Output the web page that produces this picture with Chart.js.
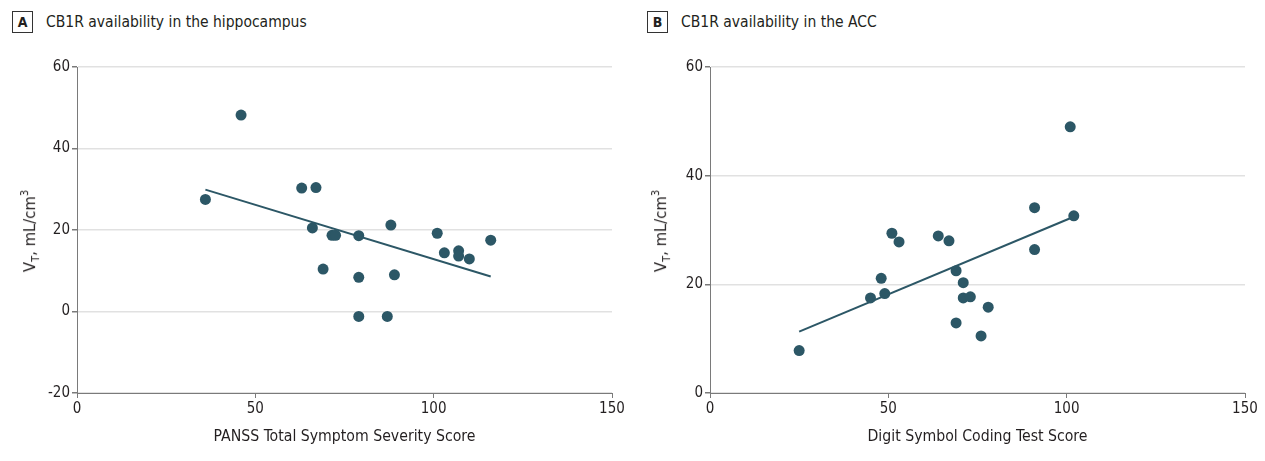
<!DOCTYPE html>
<html>
<head>
<meta charset="utf-8">
<script src="https://cdn.jsdelivr.net/npm/chart.js@4/dist/chart.umd.min.js"></script>
<style>
  body { margin: 0; background: #fff; width: 1265px; height: 461px; position: relative; overflow: hidden;
         font-family: "Liberation Sans Narrow", "DejaVu Sans Condensed", sans-serif; color: #231f20; }
  .panel-title { position: absolute; top: 11px; height: 22px; font-size: 15.5px; display: flex; align-items: center; }
  .panel-title .tag { box-sizing: border-box; width: 21px; height: 22px; border: 1px solid #333; font-weight: bold;
         font-size: 14px; display: flex; align-items: center; justify-content: center; margin-right: 13px; }
  .chart-box { position: absolute; top: 40px; height: 421px; }
  .ytitle { position: absolute; top: 231px; font-size: 16.5px; white-space: nowrap; color: #231f20;
         transform: translate(-50%, -50%) rotate(-90deg); }
  .ytitle sub, .ytitle sup { font-size: 11px; }
</style>
</head>
<body>
<div class="panel-title" style="left:12px"><span class="tag">A</span>CB1R availability in the hippocampus</div>
<div class="panel-title" style="left:647px"><span class="tag">B</span>CB1R availability in the ACC</div>

<div class="chart-box" style="left:0px; width:632px"><canvas id="chartA"></canvas></div>
<div class="chart-box" style="left:632px; width:633px"><canvas id="chartB"></canvas></div>

<div class="ytitle" style="left:30px">V<sub>T</sub>, mL/cm<sup>3</sup></div>
<div class="ytitle" style="left:661px">V<sub>T</sub>, mL/cm<sup>3</sup></div>

<script>
// panel A: hippocampus vs PANSS
const hippoPanss = [36, 46, 63, 67, 66, 71.5, 72.5, 69, 79, 79, 79, 87, 88, 89, 101, 103, 107, 107, 110, 116]
const hippoVt = [27.5, 48.2, 30.3, 30.4, 20.5, 18.7, 18.7, 10.4, 18.6, 8.4, -1.2, -1.2, 21.2, 9.0, 19.2, 14.4, 14.9, 13.6, 12.9, 17.5]
const hippoTrendX = [36, 116]
const hippoTrendY = [29.9, 8.6]

// panel B: ACC vs digit symbol coding
const accDsst = [25, 45, 48, 49, 51, 53, 64, 67, 69, 69, 71, 71, 73, 76, 78, 91, 91, 101, 102]
const accVt = [7.8, 17.5, 21.1, 18.3, 29.4, 27.8, 28.9, 28.0, 22.5, 12.9, 20.3, 17.5, 17.7, 10.5, 15.8, 34.1, 26.4, 49.0, 32.6]
const accTrendX = [25, 101.5]
const accTrendY = [11.3, 32.3]

const xTicks = [0, 50, 100, 150]
const hippoYTicks = [-20, 0, 20, 40, 60]
const accYTicks = [0, 20, 40, 60]

const dotColor = "#2c5766"
const textColor = "#231f20"
const fontFamily = '"Liberation Sans Narrow", "DejaVu Sans Condensed", sans-serif'

const toPoints = (xs, ys) => xs.map((x, i) => ({ x: x, y: ys[i] }))

function makeChart(id, xs, ys, tx, ty, yTicks, xTitle, yAxisWidth) {
  const ctx = document.getElementById(id).getContext("2d")
  new Chart(ctx, {
    type: "scatter",
    data: {
      datasets: [
        {
          data: toPoints(xs, ys),
          backgroundColor: dotColor,
          borderWidth: 0,
          pointRadius: 5.5,
          order: 0,
        },
        {
          type: "line",
          data: toPoints(tx, ty),
          borderColor: dotColor,
          borderWidth: 2,
          pointRadius: 0,
          fill: false,
          order: 1,
        },
      ],
    },
    options: {
      responsive: true,
      maintainAspectRatio: false,
      animation: false,
      layout: { padding: { top: 27, right: 20, left: 0, bottom: 0 } },
      plugins: { legend: { display: false }, tooltip: { enabled: false } },
      scales: {
        x: {
          type: "linear",
          min: xTicks[0],
          max: xTicks[xTicks.length - 1],
          afterBuildTicks: (scale) => { scale.ticks = xTicks.map((v) => ({ value: v })) },
          afterFit: (scale) => { scale.height = 68 },
          grid: { drawOnChartArea: false, drawTicks: true, tickLength: 5, tickColor: "#7a7a7a" },
          border: { color: "#7a7a7a", width: 1 },
          ticks: { color: textColor, padding: 2, font: { family: fontFamily, size: 15 } },
          title: {
            display: true,
            text: xTitle,
            color: textColor,
            font: { family: fontFamily, size: 15.7 },
            padding: { top: 0, bottom: 15 },
          },
        },
        y: {
          type: "linear",
          min: yTicks[0],
          max: yTicks[yTicks.length - 1],
          afterBuildTicks: (scale) => { scale.ticks = yTicks.map((v) => ({ value: v })) },
          afterFit: (scale) => { scale.width = yAxisWidth },
          grid: { color: "#e1e1e1", lineWidth: 1.5, drawTicks: true, tickLength: 5, tickColor: "#7a7a7a" },
          border: { color: "#7a7a7a", width: 1 },
          ticks: { color: textColor, padding: 2, font: { family: fontFamily, size: 15 } },
        },
      },
    },
  })
}

makeChart("chartA", hippoPanss, hippoVt, hippoTrendX, hippoTrendY, hippoYTicks, "PANSS Total Symptom Severity Score", 77)
makeChart("chartB", accDsst, accVt, accTrendX, accTrendY, accYTicks, "Digit Symbol Coding Test Score", 78)
</script>
</body>
</html>
